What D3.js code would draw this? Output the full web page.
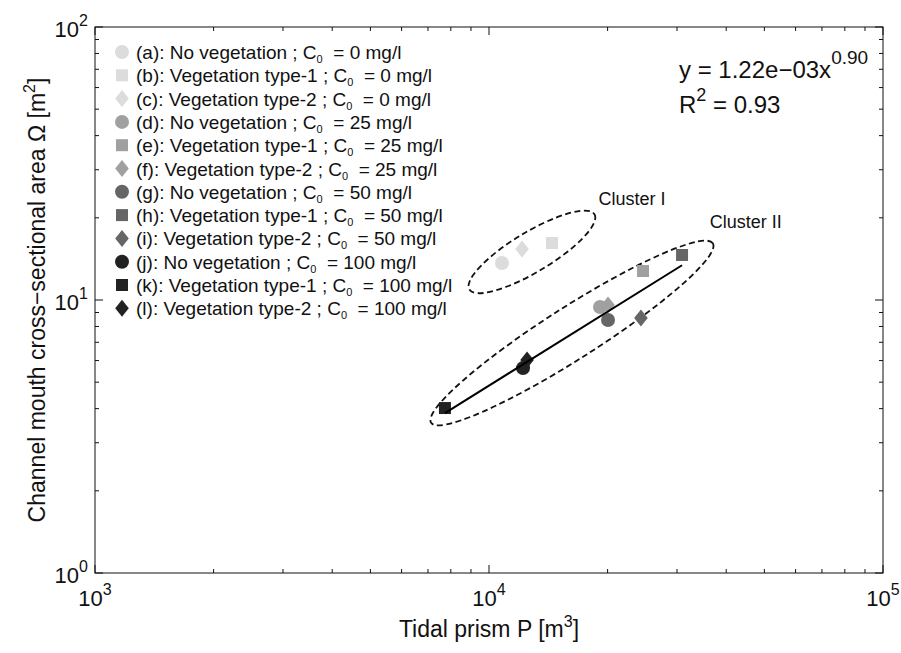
<!DOCTYPE html>
<html>
  <head>
    <script src="https://d3js.org/d3.v7.min.js"></script>
    <style>
      body { margin: 0; background: #fff; }
      text { font-family: Arial, "Liberation Sans", sans-serif; fill: #111; }
      .legend text { font-size: 19px; }
      .tick-label { font-size: 22px; }
      .axis-label { font-size: 23px; }
      .fit-text { font-size: 24px; }
      .cluster-text { font-size: 18px; }
    </style>
  </head>
  <body>
    <svg width="901" height="653"></svg>
    <script>
      // ---- data ----
      const caseLabels = ["(a)", "(b)", "(c)", "(d)", "(e)", "(f)", "(g)", "(h)", "(i)", "(j)", "(k)", "(l)"];
      const vegetation = ["No vegetation", "Vegetation type-1", "Vegetation type-2"];
      const concentrations = [0, 25, 50, 100];
      const shapes = ["circle", "square", "diamond"];
      const grays = ["#dcdcdc", "#a0a0a0", "#666666", "#222222"];
      const tidalPrism   = [10790, 14450, 12130, 19130, 24600, 20050, 20050, 30900, 24300, 12200, 7730, 12490];
      const crossSection = [13.66, 16.17, 15.37, 9.43, 12.77, 9.59, 8.45, 14.62, 8.59, 5.63, 4.02, 6.03];
      const clusterOf    = [1, 1, 1, 2, 2, 2, 2, 2, 2, 2, 2, 2];
      const xTicks = [1e3, 1e4, 1e5];
      const yTicks = [1e0, 1e1, 1e2];
      const fitCoef = 1.22e-3, fitExp = 0.90, fitR2 = 0.93;
      const clusters = [
        { name: "Cluster I",  cx: 12850, cy: 15.0, rx: 73,  ry: 20, angle: -31,   lx: 23070, ly: 22.3 },
        { name: "Cluster II", cx: 16240, cy: 7.57, rx: 167, ry: 26, angle: -32.5, lx: 44870, ly: 18.35 }
      ];

      const svg = d3.select("svg");
      const margin = { left: 95, right: 18, top: 27, bottom: 80 };
      const width = 901 - margin.left - margin.right;
      const height = 653 - margin.top - margin.bottom;

      const x = d3.scaleLog().domain([1e3, 1e5]).range([margin.left, margin.left + width]);
      const y = d3.scaleLog().domain([1e0, 1e2]).range([margin.top + height, margin.top]);

      // axes box with inward ticks on all sides
      const axisG = svg.append("g");
      const minorX = d3.range(3, 5).flatMap(e => d3.range(2, 10).map(m => m * Math.pow(10, e)));
      const minorY = d3.range(0, 2).flatMap(e => d3.range(2, 10).map(m => m * Math.pow(10, e)));

      axisG.append("rect")
        .attr("x", margin.left).attr("y", margin.top)
        .attr("width", width).attr("height", height)
        .attr("fill", "none").attr("stroke", "#111").attr("stroke-width", 1);

      function tickLines(values, len, horizontal) {
        values.forEach(v => {
          if (horizontal) {
            const px = x(v);
            axisG.append("line").attr("x1", px).attr("x2", px)
              .attr("y1", y.range()[0]).attr("y2", y.range()[0] - len).attr("stroke", "#111");
            axisG.append("line").attr("x1", px).attr("x2", px)
              .attr("y1", y.range()[1]).attr("y2", y.range()[1] + len).attr("stroke", "#111");
          } else {
            const py = y(v);
            axisG.append("line").attr("y1", py).attr("y2", py)
              .attr("x1", x.range()[0]).attr("x2", x.range()[0] + len).attr("stroke", "#111");
            axisG.append("line").attr("y1", py).attr("y2", py)
              .attr("x1", x.range()[1]).attr("x2", x.range()[1] - len).attr("stroke", "#111");
          }
        });
      }
      tickLines(minorX, 4, true);
      tickLines(minorY, 4, false);
      tickLines(xTicks, 8, true);
      tickLines(yTicks, 8, false);

      function powerLabel(g, v) {
        const t = g.append("text").attr("class", "tick-label");
        t.append("tspan").text("10");
        t.append("tspan").attr("dy", -11).attr("font-size", 16).text(Math.round(Math.log10(v)));
        return t;
      }
      xTicks.forEach(v => {
        powerLabel(axisG, v).attr("x", x(v)).attr("y", y.range()[0] + 33).attr("text-anchor", "middle");
      });
      yTicks.forEach(v => {
        powerLabel(axisG, v).attr("x", x.range()[0] - 7).attr("y", y(v) + 10).attr("text-anchor", "end");
      });

      // axis titles
      const xl = svg.append("text").attr("class", "axis-label")
        .attr("x", x(1e4)).attr("y", 637).attr("text-anchor", "middle");
      xl.append("tspan").text("Tidal prism P [m");
      xl.append("tspan").attr("dy", -10).attr("font-size", 16).text("3");
      xl.append("tspan").attr("dy", 10).text("]");

      const yl = svg.append("text").attr("class", "axis-label")
        .attr("transform", `translate(45, ${(y.range()[0] + y.range()[1]) / 2}) rotate(-90)`)
        .attr("text-anchor", "middle");
      yl.append("tspan").text("Channel mouth cross\u2212sectional area \u03A9 [m");
      yl.append("tspan").attr("dy", -10).attr("font-size", 16).text("2");
      yl.append("tspan").attr("dy", 10).text("]");

      // marker shapes
      function markerPath(shape) {
        if (shape === "circle") return d3.symbol().type(d3.symbolCircle).size(Math.PI * 7 * 7)();
        if (shape === "square") return "M-6,-6H6V6H-6Z";
        return "M0,-8.5L6.8,0L0,8.5L-6.8,0Z";
      }
      const points = caseLabels.map((c, i) => ({
        label: c,
        P: tidalPrism[i],
        A: crossSection[i],
        shape: shapes[i % 3],
        color: grays[Math.floor(i / 3)],
        veg: vegetation[i % 3],
        conc: concentrations[Math.floor(i / 3)],
        cluster: clusterOf[i]
      }));

      // cluster ellipses
      clusters.forEach(c => {
        svg.append("ellipse")
          .attr("transform", `translate(${x(c.cx)}, ${y(c.cy)}) rotate(${c.angle})`)
          .attr("rx", c.rx).attr("ry", c.ry)
          .attr("fill", "none").attr("stroke", "#111").attr("stroke-width", 1.8)
          .attr("stroke-dasharray", "6,3.5");
        svg.append("text").attr("class", "cluster-text")
          .attr("x", x(c.lx)).attr("y", y(c.ly)).attr("text-anchor", "middle").text(c.name);
      });

      // points
      svg.append("g").selectAll("path")
        .data(points)
        .join("path")
          .attr("transform", d => `translate(${x(d.P)}, ${y(d.A)})`)
          .attr("d", d => markerPath(d.shape))
          .attr("fill", d => d.color);

      // power-law fit across cluster II
      const fitX = d3.extent(points.filter(d => d.cluster === 2), d => d.P);
      svg.append("line")
        .attr("x1", x(fitX[0])).attr("y1", y(fitCoef * Math.pow(fitX[0], fitExp)))
        .attr("x2", x(fitX[1])).attr("y2", y(fitCoef * Math.pow(fitX[1], fitExp)))
        .attr("stroke", "#000").attr("stroke-width", 2);

      // fit equation
      const eq = svg.append("text").attr("class", "fit-text").attr("x", 679).attr("y", 78);
      eq.append("tspan").text("y = 1.22e\u221203x");
      eq.append("tspan").attr("dy", -14).attr("font-size", 19).text(fitExp.toFixed(2));
      const r2 = svg.append("text").attr("class", "fit-text").attr("x", 679).attr("y", 113);
      r2.append("tspan").text("R");
      r2.append("tspan").attr("dy", -12).attr("font-size", 18).text("2");
      r2.append("tspan").attr("dy", 12).text(" = " + fitR2.toFixed(2));

      // legend
      const legend = svg.append("g").attr("class", "legend").attr("transform", "translate(122, 52)");
      const rows = legend.selectAll("g")
        .data(points)
        .join("g")
          .attr("transform", (d, i) => `translate(0, ${i * 23.3})`);
      rows.append("path")
        .attr("d", d => markerPath(d.shape))
        .attr("fill", d => d.color);
      const lt = rows.append("text").attr("x", 14).attr("y", 7);
      lt.append("tspan").text(d => `${d.label}: ${d.veg} ; C`);
      lt.append("tspan").attr("dy", 4).attr("font-size", 11).text("0");
      lt.append("tspan").attr("dy", -4).text(d => `  = ${d.conc} mg/l`).attr("xml:space", "preserve");
    </script>
  </body>
</html>
